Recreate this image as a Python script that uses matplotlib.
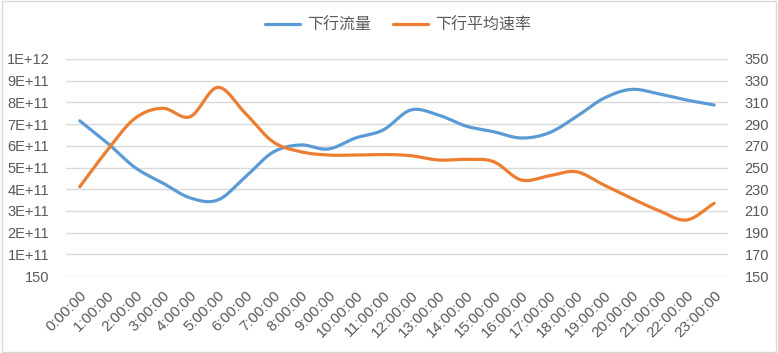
import numpy as np
import matplotlib
matplotlib.use("Agg")
import matplotlib.pyplot as plt
from matplotlib.patches import Rectangle

plt.rcParams['font.family'] = ['Liberation Sans', 'Noto Sans CJK SC', 'DejaVu Sans']

hours = [f"{h}:00:00" for h in range(24)]
traffic = [7.15e11, 6.13e11, 5.0e11, 4.29e11, 3.6e11, 3.5e11, 4.56e11, 5.7e11,
           6.04e11, 5.85e11, 6.36e11, 6.73e11, 7.65e11, 7.42e11, 6.91e11, 6.65e11,
           6.36e11, 6.59e11, 7.34e11, 8.19e11, 8.6e11, 8.39e11, 8.11e11, 7.88e11]
speed = [232.3, 266, 295.3, 304.6, 296.8, 323.9, 300, 273.8,
         264.6, 261.5, 261.5, 262.0, 260.9, 256.9, 257.5, 255.4,
         238.5, 242.2, 246.1, 233.9, 221.6, 210.2, 201.6, 217]
left_ticks = [150, 1e11, 2e11, 3e11, 4e11, 5e11, 6e11, 7e11, 8e11, 9e11, 1e12]
left_labels = ["150", "1E+11", "2E+11", "3E+11", "4E+11", "5E+11", "6E+11",
               "7E+11", "8E+11", "9E+11", "1E+12"]
right_ticks = list(range(150, 351, 20))
names = ["下行流量", "下行平均速率"]


def smooth(x, y, n=20):
    # Catmull-Rom style smoothing (similar to Excel smoothed lines)
    x = np.asarray(x, float)
    y = np.asarray(y, float)
    px = np.concatenate([[2 * x[0] - x[1]], x, [2 * x[-1] - x[-2]]])
    py = np.concatenate([[2 * y[0] - y[1]], y, [2 * y[-1] - y[-2]]])
    xs, ys = [], []
    t = np.linspace(0, 1, n, endpoint=False)
    for i in range(1, len(px) - 2):
        p0, p1, p2, p3 = py[i - 1], py[i], py[i + 1], py[i + 2]
        q0, q1, q2, q3 = px[i - 1], px[i], px[i + 1], px[i + 2]
        for arr, (a0, a1, a2, a3) in ((ys, (p0, p1, p2, p3)), (xs, (q0, q1, q2, q3))):
            arr.extend(0.5 * ((2 * a1) + (-a0 + a2) * t +
                              (2 * a0 - 5 * a1 + 4 * a2 - a3) * t ** 2 +
                              (-a0 + 3 * a1 - 3 * a2 + a3) * t ** 3))
    xs.append(x[-1])
    ys.append(y[-1])
    return np.array(xs), np.array(ys)


fig = plt.figure(figsize=(7.78, 3.53), dpi=100)
ax = fig.add_axes([66 / 778, 1 - 276 / 353, 662 / 778, 217 / 353])
ax2 = ax.twinx()

xi = np.arange(len(hours))
sx, sy = smooth(xi, traffic)
l1, = ax.plot(sx, sy, color='#5B9BD5', lw=2.3, solid_capstyle='round', zorder=3)
sx2, sy2 = smooth(xi, speed)
l2, = ax2.plot(sx2, sy2, color='#ED7D31', lw=2.3, solid_capstyle='round', zorder=3)

ax.set_xlim(-0.5, 23.5)
ax.set_ylim(150, 1e12)
ax.set_yticks(left_ticks)
ax.set_yticklabels(left_labels)
ax2.set_ylim(150, 350)
ax2.set_yticks(right_ticks)
ax.set_xticks(xi)
ax.set_xticklabels(hours, rotation=45, ha='right', va='top', rotation_mode='anchor')

ax.grid(axis='y', color='#D9D9D9', lw=1)
ax.set_axisbelow(True)
for a in (ax, ax2):
    for s in a.spines.values():
        s.set_visible(False)
    a.tick_params(length=0, colors='#595959', labelsize=10.5)
ax.tick_params(axis='y', pad=12)
ax2.tick_params(axis='y', pad=12)
ax.tick_params(axis='x', pad=9, labelsize=11)

fig.legend([l1, l2], names, loc='center', bbox_to_anchor=(398 / 778, 1 - 25 / 353),
           ncol=2, frameon=False, handlelength=2.2, handletextpad=0.4, columnspacing=1.4,
           prop={'family': ['Noto Sans CJK SC'], 'size': 11.5}, labelcolor='#595959')

fig.patches.append(Rectangle((0.002, 0.003), 0.995, 0.993, transform=fig.transFigure,
                             fill=False, edgecolor='#D9D9D9', lw=1))
fig.savefig('out.png', dpi=100, facecolor='white')
